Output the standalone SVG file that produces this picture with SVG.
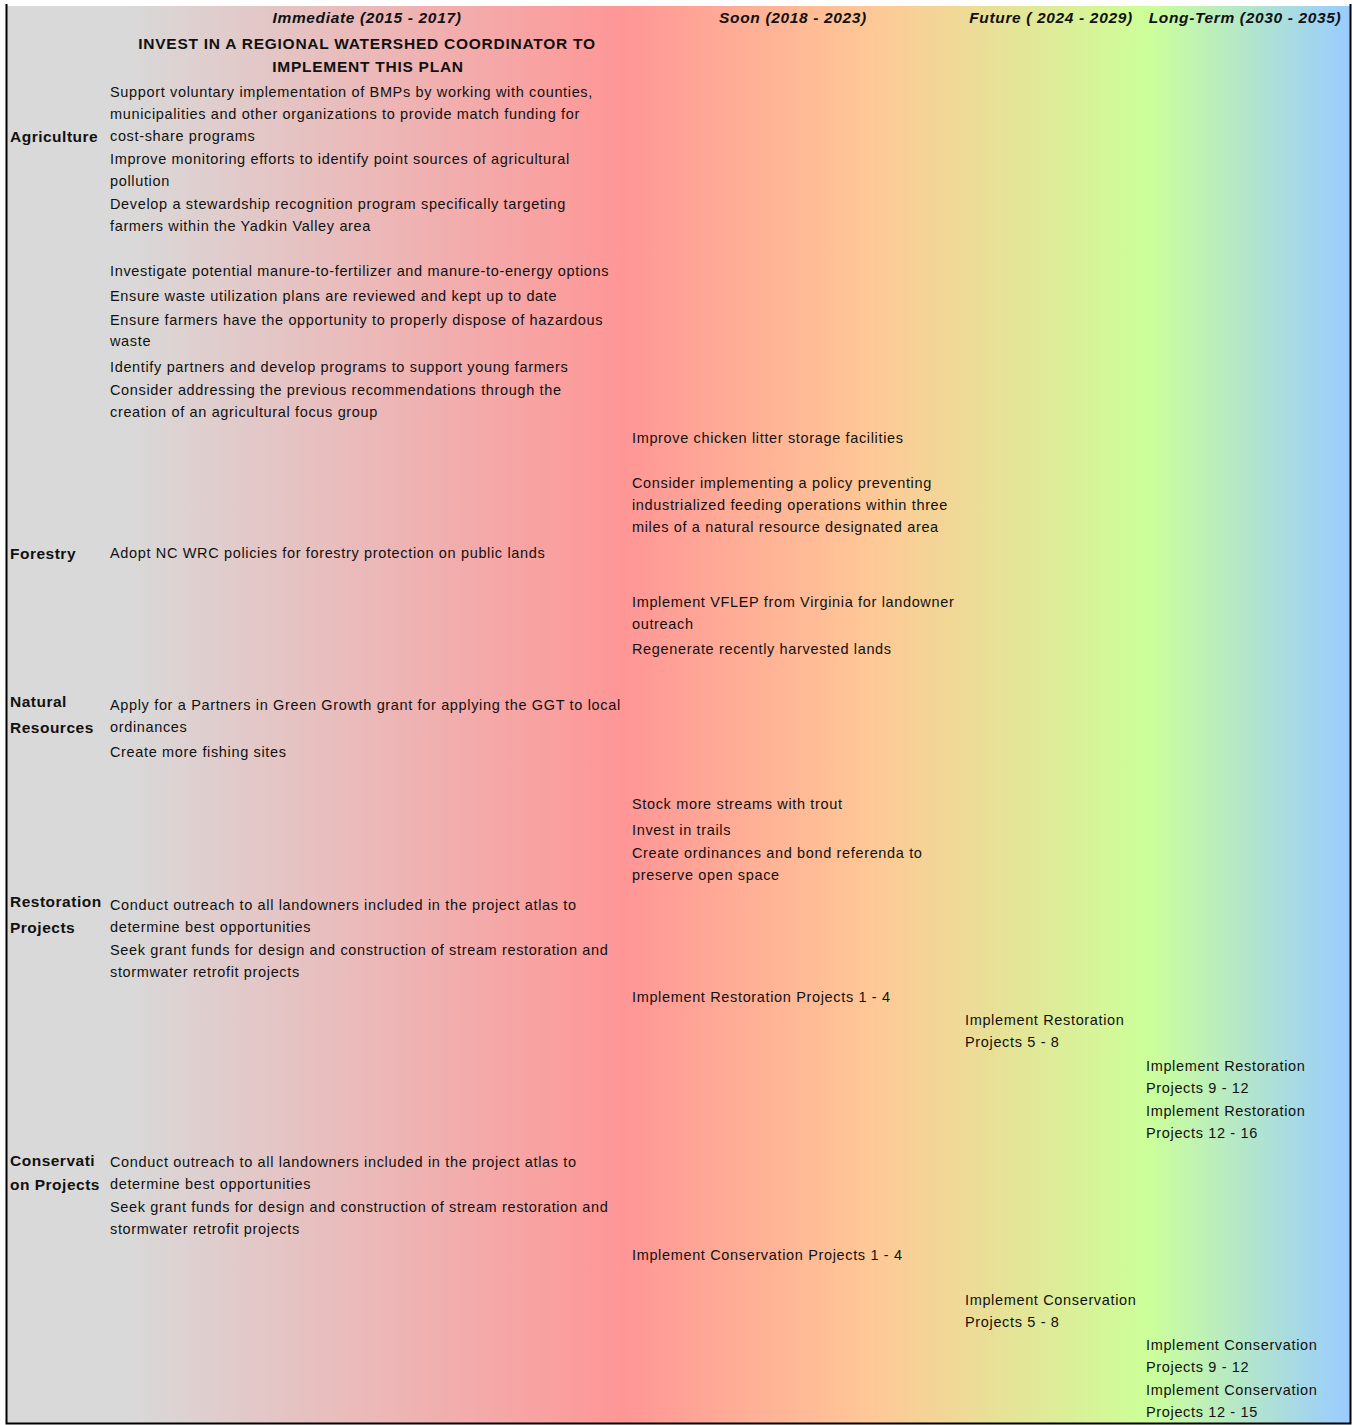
<svg xmlns="http://www.w3.org/2000/svg" width="1352" height="1425" viewBox="0 0 1352 1425">
<defs>
<linearGradient id="bg" gradientUnits="userSpaceOnUse" x1="6" y1="0" x2="1350" y2="0">
<stop offset="0" stop-color="#d9d9d9"/>
<stop offset="0.09" stop-color="#d9d9d9"/>
<stop offset="0.46" stop-color="#ff9696"/>
<stop offset="0.645" stop-color="#ffc896"/>
<stop offset="0.85" stop-color="#ccff99"/>
<stop offset="1" stop-color="#99ccff"/>
</linearGradient>
<style>
text{font-family:"Liberation Sans",Arial,sans-serif;font-size:14.5px;letter-spacing:0.65px;fill:#111}
.h{font-weight:bold;font-style:italic;font-size:15.5px;letter-spacing:0.65px;text-anchor:middle}
.c{font-weight:bold;font-size:15.5px;letter-spacing:0.75px;text-anchor:middle}
.cat{font-weight:bold;font-size:15.5px;letter-spacing:0.5px}
</style>
</defs>
<rect x="6" y="6" width="1344" height="1417" fill="url(#bg)"/>
<path d="M6.5 4 V1423.5 H1350.5 V4" fill="none" stroke="#000" stroke-width="2"/>

<g id="headers">
<text class="h" x="367" y="23">Immediate (2015 - 2017)</text>
<text class="h" x="793" y="23">Soon (2018 - 2023)</text>
<text class="h" x="1051" y="23">Future ( 2024 - 2029)</text>
<text class="h" x="1245" y="23">Long-Term (2030 - 2035)</text>
<text class="c" x="367" y="49">INVEST IN A REGIONAL WATERSHED COORDINATOR TO</text>
<text class="c" x="368" y="72">IMPLEMENT THIS PLAN</text>
</g>

<g id="agriculture">
<text class="cat" x="10" y="142">Agriculture</text>
<text x="110" y="97">Support voluntary implementation of BMPs by working with counties,</text>
<text x="110" y="119">municipalities and other organizations to provide match funding for</text>
<text x="110" y="141">cost-share programs</text>
<text x="110" y="164">Improve monitoring efforts to identify point sources of agricultural</text>
<text x="110" y="186">pollution</text>
<text x="110" y="209">Develop a stewardship recognition program specifically targeting</text>
<text x="110" y="231">farmers within the Yadkin Valley area</text>
<text x="110" y="276">Investigate potential manure-to-fertilizer and manure-to-energy options</text>
<text x="110" y="301">Ensure waste utilization plans are reviewed and kept up to date</text>
<text x="110" y="325">Ensure farmers have the opportunity to properly dispose of hazardous</text>
<text x="110" y="346">waste</text>
<text x="110" y="372">Identify partners and develop programs to support young farmers</text>
<text x="110" y="395">Consider addressing the previous recommendations through the</text>
<text x="110" y="417">creation of an agricultural focus group</text>
<text x="632" y="443">Improve chicken litter storage facilities</text>
<text x="632" y="488">Consider implementing a policy preventing</text>
<text x="632" y="510">industrialized feeding operations within three</text>
<text x="632" y="532">miles of a natural resource designated area</text>
</g>

<g id="forestry">
<text class="cat" x="10" y="559">Forestry</text>
<text x="110" y="558">Adopt NC WRC policies for forestry protection on public lands</text>
<text x="632" y="607">Implement VFLEP from Virginia for landowner</text>
<text x="632" y="629">outreach</text>
<text x="632" y="654">Regenerate recently harvested lands</text>
</g>

<g id="natural-resources">
<text class="cat" x="10" y="707">Natural</text>
<text class="cat" x="10" y="733">Resources</text>
<text x="110" y="710">Apply for a Partners in Green Growth grant for applying the GGT to local</text>
<text x="110" y="732">ordinances</text>
<text x="110" y="757">Create more fishing sites</text>
<text x="632" y="809">Stock more streams with trout</text>
<text x="632" y="835">Invest in trails</text>
<text x="632" y="858">Create ordinances and bond referenda to</text>
<text x="632" y="880">preserve open space</text>
</g>

<g id="restoration-projects">
<text class="cat" x="10" y="907">Restoration</text>
<text class="cat" x="10" y="933">Projects</text>
<text x="110" y="910">Conduct outreach to all landowners included in the project atlas to</text>
<text x="110" y="932">determine best opportunities</text>
<text x="110" y="955">Seek grant funds for design and construction of stream restoration and</text>
<text x="110" y="977">stormwater retrofit projects</text>
<text x="632" y="1002">Implement Restoration Projects 1 - 4</text>
<text x="965" y="1025">Implement Restoration</text>
<text x="965" y="1047">Projects 5 - 8</text>
<text x="1146" y="1071">Implement Restoration</text>
<text x="1146" y="1093">Projects 9 - 12</text>
<text x="1146" y="1116">Implement Restoration</text>
<text x="1146" y="1138">Projects 12 - 16</text>
</g>

<g id="conservation-projects">
<text class="cat" x="10" y="1166">Conservati</text>
<text class="cat" x="10" y="1190">on Projects</text>
<text x="110" y="1167">Conduct outreach to all landowners included in the project atlas to</text>
<text x="110" y="1189">determine best opportunities</text>
<text x="110" y="1212">Seek grant funds for design and construction of stream restoration and</text>
<text x="110" y="1234">stormwater retrofit projects</text>
<text x="632" y="1260">Implement Conservation Projects 1 - 4</text>
<text x="965" y="1305">Implement Conservation</text>
<text x="965" y="1327">Projects 5 - 8</text>
<text x="1146" y="1350">Implement Conservation</text>
<text x="1146" y="1372">Projects 9 - 12</text>
<text x="1146" y="1395">Implement Conservation</text>
<text x="1146" y="1417">Projects 12 - 15</text>
</g>
</svg>
